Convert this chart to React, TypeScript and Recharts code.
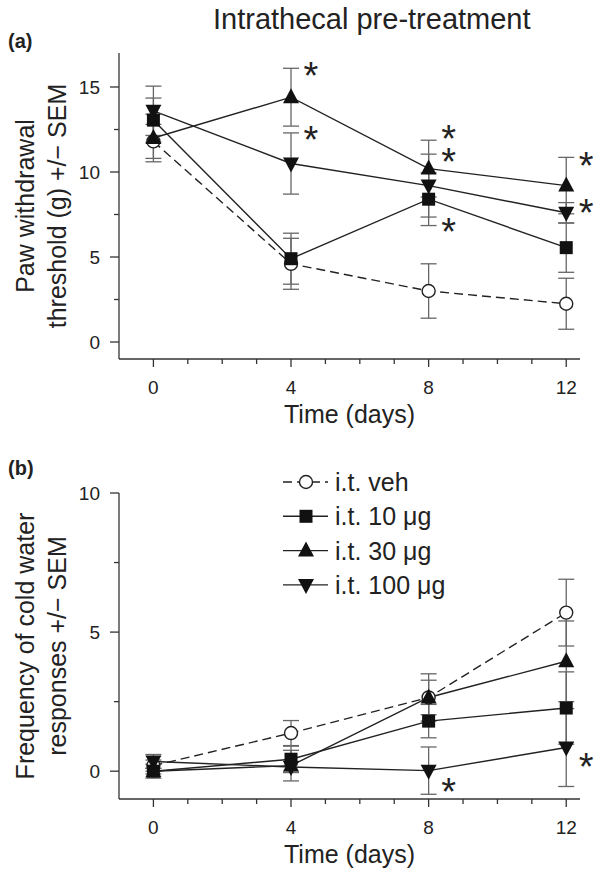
import React from 'react';
import { ComposedChart, Line, XAxis, YAxis, ErrorBar, Scatter, Legend } from 'recharts';

const FONT = '"Liberation Sans", Arial, Helvetica, sans-serif';
const INK = '#222';

const days = [0, 4, 8, 12];
const seriesNames = ['i.t. veh', 'i.t. 10 μg', 'i.t. 30 μg', 'i.t. 100 μg'];
const seriesKeys = ['veh', 'd10', 'd30', 'd100'];
const seriesShapes = ['circle', 'square', 'up', 'down'];
// drawing order (veh at the back)
const drawOrder = [0, 3, 2, 1];

// (a) paw withdrawal threshold (g)
const pawVeh = [11.8, 4.6, 3.0, 2.25];
const pawVehSem = [1.0, 1.5, 1.6, 1.5];
const paw10 = [13.05, 4.9, 8.4, 5.55];
const paw10Sem = [1.3, 1.5, 1.55, 1.45];
const paw30 = [12.0, 14.4, 10.2, 9.2];
const paw30Sem = [1.4, 1.7, 1.67, 1.66];
const paw100 = [13.6, 10.5, 9.2, 7.6];
const paw100Sem = [1.45, 1.8, 1.85, 0.6];
const pawStars = [
  { day: 4, value: 16.2 },
  { day: 4, value: 12.4 },
  { day: 8, value: 12.5 },
  { day: 8, value: 11.1 },
  { day: 8, value: 7.0 },
  { day: 12, value: 10.9 },
  { day: 12, value: 8.1 },
];

// (b) frequency of cold water responses
const coldVeh = [0.2, 1.37, 2.65, 5.7];
const coldVehSem = [0.2, 0.45, 0.62, 1.2];
const cold10 = [0.0, 0.43, 1.8, 2.27];
const cold10Sem = [0.1, 0.47, 0.6, 1.3];
const cold30 = [0.0, 0.2, 2.65, 3.95];
const cold30Sem = [0.25, 0.55, 0.85, 1.45];
const cold100 = [0.35, 0.15, 0.02, 0.85];
const cold100Sem = [0.25, 0.2, 0.85, 1.4];
const coldStars = [
  { day: 8, value: -0.43 },
  { day: 12, value: 0.47 },
];

const xTicks = [0, 1, 2, 3, 4, 5, 6, 7, 8, 9, 10, 11, 12];
const pawTicks = [0, 2.5, 5, 7.5, 10, 12.5, 15];
const coldTicks = [0, 2.5, 5, 7.5, 10];

const buildRows = (vals: number[][], sems: number[][]) =>
  days.map((day, i) => {
    const row: any = { day };
    seriesKeys.forEach((k, s) => {
      row[k] = vals[s][i];
      row[k + 'Err'] = sems[s][i];
    });
    return row;
  });

const pawData = buildRows([pawVeh, paw10, paw30, paw100], [pawVehSem, paw10Sem, paw30Sem, paw100Sem]);
const coldData = buildRows([coldVeh, cold10, cold30, cold100], [coldVehSem, cold10Sem, cold30Sem, cold100Sem]);

function Marker({ shape, cx, cy }: { shape: string; cx: number; cy: number }) {
  if (shape === 'circle')
    return <circle cx={cx} cy={cy} r={6.5} fill="#fff" stroke={INK} strokeWidth={1.4} />;
  if (shape === 'square') return <rect x={cx - 6.5} y={cy - 6.5} width={13} height={13} fill="#111" />;
  if (shape === 'up')
    return <polygon points={`${cx},${cy - 9} ${cx - 8},${cy + 6} ${cx + 8},${cy + 6}`} fill="#111" />;
  return <polygon points={`${cx},${cy + 9} ${cx - 8},${cy - 6} ${cx + 8},${cy - 6}`} fill="#111" />;
}

const XTick = (props: any) => {
  const { x, y, payload } = props;
  const major = payload.value % 4 === 0;
  return (
    <g>
      <line x1={x} x2={x} y1={y} y2={y + (major ? 8 : 5)} stroke="#333" strokeWidth={1.3} />
      {major && (
        <text x={x} y={y + 35} textAnchor="middle" fontSize={19} fill={INK} fontFamily={FONT}>
          {payload.value}
        </text>
      )}
    </g>
  );
};

const YTick = (props: any) => {
  const { x, y, payload } = props;
  const major = payload.value % 5 === 0;
  return (
    <g>
      <line x1={x - (major ? 9 : 5)} x2={x} y1={y} y2={y} stroke="#333" strokeWidth={1.3} />
      {major && (
        <text x={x - 19} y={y + 7} textAnchor="end" fontSize={19} fill={INK} fontFamily={FONT}>
          {payload.value}
        </text>
      )}
    </g>
  );
};

const yTitle = (lines: string[]) => (props: any) => {
  const vb = props.viewBox || {};
  const cy = vb.y + vb.height / 2;
  return (
    <g>
      {lines.map((t, i) => {
        const bx = 34 + i * 32;
        return (
          <text
            key={t}
            x={bx}
            y={cy}
            transform={`rotate(-90 ${bx} ${cy})`}
            textAnchor="middle"
            fontSize={25}
            fill={INK}
            fontFamily={FONT}
          >
            {t}
          </text>
        );
      })}
    </g>
  );
};

const xTitle = (props: any) => {
  const vb = props.viewBox || {};
  return (
    <text x={vb.x + vb.width / 2} y={vb.y + 64} textAnchor="middle" fontSize={25} fill={INK} fontFamily={FONT}>
      Time (days)
    </text>
  );
};

const Star = (props: any) => (
  <text x={props.cx + 20} y={props.cy + 22} textAnchor="middle" fontSize={38} fill={INK} fontFamily={FONT}>
    *
  </text>
);

const renderLegend = () => (
  <svg width={240} height={140} style={{ display: 'block' }}>
    {seriesNames.map((name, i) => {
      const y = 17 + i * 34.3;
      return (
        <g key={name}>
          <line
            x1={5}
            x2={50}
            y1={y}
            y2={y}
            stroke={INK}
            strokeWidth={1.4}
            strokeDasharray={i === 0 ? '9 5' : undefined}
          />
          <Marker shape={seriesShapes[i]} cx={28} cy={y} />
          <text x={57} y={y + 9} fontSize={25} fill={INK} fontFamily={FONT}>
            {name}
          </text>
        </g>
      );
    })}
  </svg>
);

function Panel(props: {
  data: any[];
  domain: number[];
  ticks: number[];
  title: string[];
  stars: { day: number; value: number }[];
  height: number;
  showLegend?: boolean;
}) {
  const { data, domain, ticks, title, stars, height, showLegend } = props;
  return (
    <ComposedChart width={602} height={height} data={data} margin={{ top: 53, right: 22, bottom: 0, left: 0 }}>
      <XAxis
        type="number"
        dataKey="day"
        domain={[-1, 12.4]}
        ticks={xTicks}
        height={height - 53 - 306}
        tickSize={0}
        tickMargin={0}
        tick={XTick}
        axisLine={{ stroke: '#333', strokeWidth: 1.3 }}
        label={{ content: xTitle }}
      />
      <YAxis
        type="number"
        domain={domain}
        ticks={ticks}
        width={119}
        tickSize={0}
        tickMargin={0}
        tick={YTick}
        axisLine={{ stroke: '#333', strokeWidth: 1.3 }}
        label={{ content: yTitle(title) }}
      />
      {drawOrder.map((s) => (
        <Line
          key={seriesKeys[s]}
          dataKey={seriesKeys[s]}
          name={seriesNames[s]}
          stroke={INK}
          strokeWidth={1.4}
          strokeDasharray={s === 0 ? '9 5' : undefined}
          isAnimationActive={false}
          activeDot={false}
          dot={(p: any) => <Marker key={`${seriesKeys[s]}-${p.index}`} shape={seriesShapes[s]} cx={p.cx} cy={p.cy} />}
        >
          <ErrorBar dataKey={seriesKeys[s] + 'Err'} direction="y" width={8} stroke="#666" strokeWidth={1.3} />
        </Line>
      ))}
      <Scatter data={stars} dataKey="value" shape={Star} isAnimationActive={false} legendType="none" />
      {showLegend && (
        <Legend
          layout="horizontal"
          verticalAlign="middle"
          align="center"
          content={renderLegend}
          wrapperStyle={{ left: 278, top: 25, width: 240, height: 140 }}
        />
      )}
    </ComposedChart>
  );
}

export default function App() {
  return (
    <div style={{ position: 'absolute', left: 0, top: 0, width: 602, height: 877, background: '#fff' }}>
      <div style={{ position: 'absolute', left: 0, top: 0 }}>
        <Panel
          data={pawData}
          domain={[-1, 17]}
          ticks={pawTicks}
          title={['Paw withdrawal', 'threshold (g) +/− SEM']}
          stars={pawStars}
          height={440}
        />
      </div>
      <div style={{ position: 'absolute', left: 0, top: 440 }}>
        <Panel
          data={coldData}
          domain={[-1, 10]}
          ticks={coldTicks}
          title={['Frequency of cold water', 'responses +/− SEM']}
          stars={coldStars}
          height={437}
          showLegend
        />
      </div>
      <svg
        width={602}
        height={877}
        style={{ position: 'absolute', left: 0, top: 0, pointerEvents: 'none' }}
      >
        <text x={213} y={29} fontSize={29} fill={INK} fontFamily={FONT}>
          Intrathecal pre-treatment
        </text>
        <text x={8} y={48} fontSize={20} fontWeight="bold" fill={INK} fontFamily={FONT}>
          (a)
        </text>
        <text x={8} y={475} fontSize={20} fontWeight="bold" fill={INK} fontFamily={FONT}>
          (b)
        </text>
      </svg>
    </div>
  );
}
